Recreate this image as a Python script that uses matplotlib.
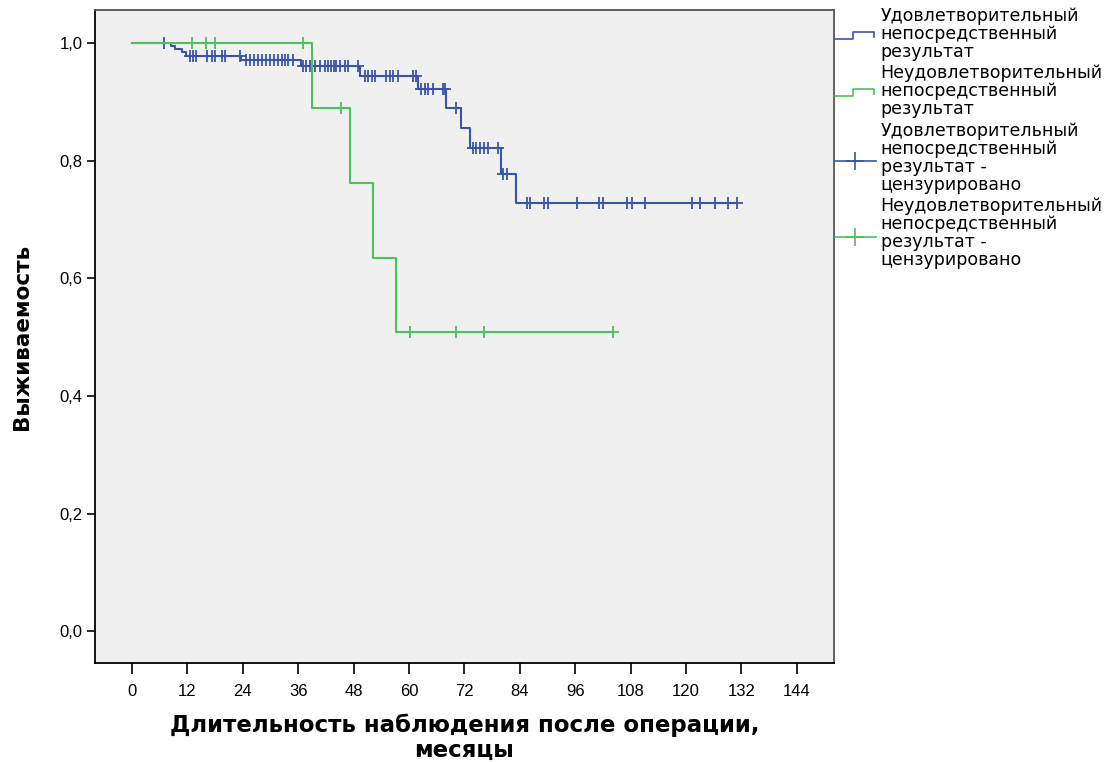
import numpy as np
import matplotlib.pyplot as plt
from matplotlib.lines import Line2D
from matplotlib.legend_handler import HandlerBase

# event times (months) and survival after each step
blue_t = [0, 8.4, 9.3, 10.8, 11.8, 23.7, 36.7, 49.4, 62.0, 68.1, 71.2, 73.2, 80.0, 83.2]
blue_s = [1.0, 0.995, 0.989, 0.984, 0.978, 0.971, 0.960, 0.944, 0.921, 0.889, 0.855, 0.821, 0.777, 0.728]
blue_cens = [7.0, 12.6, 13.3, 13.9, 16.2, 17.3, 18.0, 19.4, 20.1, 23.4,
             24.8, 25.6, 26.5, 27.3, 28.2, 29.0, 29.9, 30.7, 31.6, 32.4, 33.1, 33.8, 34.8,
             37.1, 37.8, 38.5, 39.6, 40.7, 41.8, 42.5, 43.1, 43.8, 44.3, 45.0, 46.1, 46.8, 49.0,
             50.5, 51.2, 51.9, 52.6, 55.1, 55.9, 56.6, 57.7, 60.9, 61.6,
             62.7, 63.4, 64.2, 65.1, 67.3, 67.8, 70.2,
             73.9, 74.6, 75.4, 76.2, 77.2, 79.3, 80.4, 81.2,
             85.5, 86.2, 89.3, 90.1, 96.3, 101.1, 102.1, 107.3, 108.2, 111.2,
             121.2, 123.1, 126.2, 129.1, 131.1]

green_t = [0, 39.1, 47.2, 52.3, 57.2]
green_s = [1.0, 0.889, 0.762, 0.635, 0.508]
green_cens = [13.1, 16.0, 18.0, 37.1, 45.2, 60.2, 70.2, 76.2, 104.2]

xticks = list(range(0, 145, 12))
yticks = [0.0, 0.2, 0.4, 0.6, 0.8, 1.0]
ylabels = ["0,0", "0,2", "0,4", "0,6", "0,8", "1,0"]

labels = ["Удовлетворительный\nнепосредственный\nрезультат",
          "Неудовлетворительный\nнепосредственный\nрезультат",
          "Удовлетворительный\nнепосредственный\nрезультат -\nцензурировано",
          "Неудовлетворительный\nнепосредственный\nрезультат -\nцензурировано"]

BLUE = "#3a55a8"
GREEN = "#4cc25a"
NARROW = ["Liberation Sans Narrow", "Liberation Sans", "DejaVu Sans"]


def km_value(t, times, surv):
    idx = np.searchsorted(times, t, side="right") - 1
    return np.asarray(surv)[idx]


def draw_km(ax, times, surv, cens, color):
    end = max(max(times), max(cens))
    tt = list(times) + [end]
    ss = list(surv) + [surv[-1]]
    ax.step(tt, ss, where="post", color=color, lw=1.5)
    cy = km_value(np.array(cens), np.array(times), surv)
    ax.plot(cens, cy, ls="none", marker="+", ms=9, mew=1.3, color=color)


class StepHandler(HandlerBase):
    def create_artists(self, legend, orig, xd, yd, w, h, fs, trans):
        c = orig.get_color()
        x = [xd, xd + w * 0.45, xd + w * 0.45, xd + w * 0.95, xd + w * 0.95]
        y = [yd + h * 0.2, yd + h * 0.2, yd + h * 0.75, yd + h * 0.75, yd + h * 0.35]
        ln = Line2D(x, y, color=c, lw=1.2, transform=trans)
        return [ln]


class CensHandler(HandlerBase):
    def create_artists(self, legend, orig, xd, yd, w, h, fs, trans):
        c = orig.get_color()
        ln = Line2D([xd, xd + w], [yd + h * 0.3] * 2, color=c, lw=1.2, transform=trans)
        mk = Line2D([xd + w / 2], [yd + h * 0.3], marker="+", ms=13, mew=1.2,
                    color=c, transform=trans)
        return [ln, mk]


fig = plt.figure(figsize=(11.11, 7.62), dpi=100)
ax = fig.add_axes([0.0855, 0.130, 0.665, 0.857])
ax.set_facecolor("#f0f0f0")

draw_km(ax, blue_t, blue_s, blue_cens, BLUE)
draw_km(ax, green_t, green_s, green_cens, GREEN)

ax.set_xlim(-8, 152)
ax.set_ylim(-0.054, 1.056)
ax.set_xticks(xticks)
ax.set_xticklabels([str(v) for v in xticks], family=NARROW, fontsize=12)
ax.set_yticks(yticks)
ax.set_yticklabels(ylabels, family=NARROW, fontsize=12)
ax.tick_params(axis="x", length=8, width=1.2, pad=7)
ax.tick_params(axis="y", length=6, width=1.2, pad=3)
for s in ["left", "bottom"]:
    ax.spines[s].set_color("black")
    ax.spines[s].set_linewidth(1.3)
for s in ["top", "right"]:
    ax.spines[s].set_color("#555555")
    ax.spines[s].set_linewidth(1.3)

ax.set_xlabel("Длительность наблюдения после операции,\nмесяцы", fontsize=16.5, fontweight="bold",
              family=["DejaVu Sans"], labelpad=11, linespacing=1.1)
ax.set_ylabel("Выживаемость", fontsize=15.5, fontweight="bold",
              family=["DejaVu Sans"], labelpad=20)

handles = [Line2D([], [], color=BLUE), Line2D([], [], color=GREEN),
           Line2D([], [], color=BLUE), Line2D([], [], color=GREEN)]
hmap = {handles[0]: StepHandler(), handles[1]: StepHandler(),
        handles[2]: CensHandler(), handles[3]: CensHandler()}
leg = fig.legend(handles, labels, handler_map=hmap, loc="upper left",
                 bbox_to_anchor=(0.745, 1.0), frameon=False, handlelength=2.4,
                 handletextpad=0.25, labelspacing=0.2, borderaxespad=0.2, borderpad=0.2,
                 prop={"family": ["DejaVu Sans"], "size": 12.5})
for t in leg.get_texts():
    t.set_multialignment("left")
    t.set_linespacing(1.0)

fig.savefig("out.png", dpi=100)
